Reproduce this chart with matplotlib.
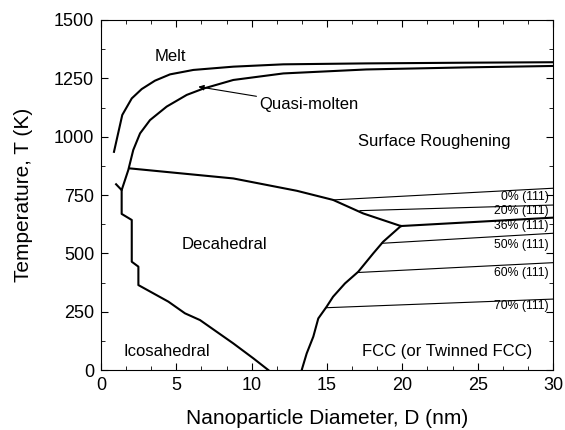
import numpy as np
import matplotlib
matplotlib.use('Agg')
import matplotlib.pyplot as plt
from matplotlib.ticker import MultipleLocator

plt.rcParams['font.family'] = ['Liberation Sans', 'DejaVu Sans']

# Curva de fusion (Melt)
melt_d = [0.86, 1.41, 2.04, 2.7, 3.58, 4.58, 6.13, 8.78, 12.1, 17.6, 24.3, 30.0]
melt_t = [935, 1093, 1164, 1204, 1240, 1267, 1286, 1300, 1310, 1314, 1317, 1319]

# Curva quasi-molten
quasi_d = [1.0, 1.37, 1.81, 2.14, 2.59, 3.25, 4.36, 5.69, 6.79, 8.78, 12.1, 17.6, 24.3, 30.0]
quasi_t = [796, 771, 857, 943, 1014, 1071, 1129, 1179, 1206, 1243, 1271, 1288, 1297, 1303]

# Limite superior de la region decaedrica
deca_top_d = [1.92, 8.78, 13.0, 15.4, 17.4, 19.9]
deca_top_t = [864, 821, 768, 729, 671, 617]

# Limite decaedrico / FCC
fcc_d = [19.9, 18.73, 18.07, 17.07, 16.19, 15.4, 14.97, 14.42, 14.09, 13.65, 13.32]
fcc_t = [617, 550, 500, 421, 371, 314, 271, 221, 143, 71, 0]

# Limite icosaedrico
ico_d = [1.37, 1.37, 2.04, 2.04, 2.48, 2.48, 4.47, 5.57, 6.57, 8.78, 10.11, 11.1]
ico_t = [771, 669, 643, 464, 443, 364, 293, 243, 214, 114, 50, 0]

# Linea gruesa desde el punto triple
triple_d = [19.9, 30.0]
triple_t = [617, 653]

# Lineas de porcentaje (111)
pct_labels = ['0% (111)', '20% (111)', '36% (111)', '50% (111)', '60% (111)', '70% (111)']
pct_start_d = [15.4, 17.19, None, 18.62, 17.07, 14.97]
pct_start_t = [729, 683, None, 543, 418, 267]
pct_end_t = [779, 707, 653, 586, 460, 304]
pct_label_t = [743, 681, 617, 536, 414, 276]

fig = plt.figure(figsize=(5.65, 4.3), dpi=100)
ax = fig.add_axes([0.1788, 0.1395, 0.80, 0.814])

lw = 1.5
ax.plot(melt_d, melt_t, 'k-', lw=lw)
ax.plot(quasi_d, quasi_t, 'k-', lw=lw)
ax.plot(deca_top_d, deca_top_t, 'k-', lw=lw)
ax.plot(fcc_d, fcc_t, 'k-', lw=lw)
ax.plot(ico_d, ico_t, 'k-', lw=lw)
ax.plot(triple_d, triple_t, 'k-', lw=lw)

for i in range(len(pct_labels)):
    if pct_start_d[i] is not None:
        ax.plot([pct_start_d[i], 30], [pct_start_t[i], pct_end_t[i]], 'k-', lw=0.8)
    ax.text(29.7, pct_label_t[i], pct_labels[i], fontsize=8.8, ha='right', va='center')

fs = 12
ax.text(4.6, 1343, 'Melt', fontsize=fs, ha='center', va='center')
ax.text(22.1, 979, 'Surface Roughening', fontsize=fs, ha='center', va='center')
ax.text(8.2, 539, 'Decahedral', fontsize=fs, ha='center', va='center')
ax.text(4.35, 79, 'Icosahedral', fontsize=fs, ha='center', va='center')
ax.text(23.0, 79, 'FCC (or Twinned FCC)', fontsize=fs, ha='center', va='center')
ax.annotate('Quasi-molten', xy=(6.46, 1214), xytext=(10.5, 1136),
            fontsize=fs, ha='left', va='center',
            arrowprops=dict(arrowstyle='-|>', color='k', lw=0.8,
                            mutation_scale=8, shrinkA=0, shrinkB=0))

ax.set_xlim(0, 30)
ax.set_ylim(0, 1500)
ax.xaxis.set_major_locator(MultipleLocator(5))
ax.xaxis.set_minor_locator(MultipleLocator(5/3))
ax.yaxis.set_major_locator(MultipleLocator(250))
ax.yaxis.set_minor_locator(MultipleLocator(125))
ax.tick_params(which='both', direction='in', top=True, right=True, labelsize=13)
ax.tick_params(which='major', length=5, pad=5)
ax.tick_params(which='minor', length=3)
ax.set_xlabel('Nanoparticle Diameter, D (nm)', fontsize=15, labelpad=11)
ax.set_ylabel('Temperature, T (K)', fontsize=15, labelpad=15)

fig.savefig('out.png', dpi=100)
